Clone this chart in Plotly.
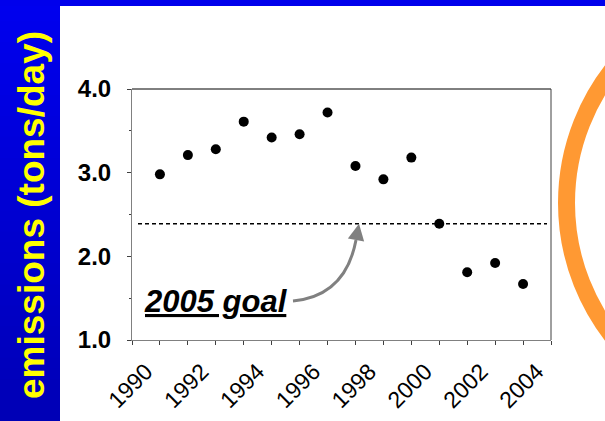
import plotly.graph_objects as go

# Annual emissions (tons/day)
years = [1990, 1991, 1992, 1993, 1994, 1995, 1996, 1997, 1998, 1999, 2000, 2001, 2002, 2003]
emissions = [2.98, 3.21, 3.28, 3.61, 3.42, 3.46, 3.72, 3.08, 2.92, 3.18, 2.39, 1.81, 1.92, 1.67]
label_years = [1990, 1992, 1994, 1996, 1998, 2000, 2002, 2004]
y_ticks = [1.0, 2.0, 3.0, 4.0]
goal_2005 = 2.39

W, H = 605, 421
ML, MR, MT, MB = 132, 54, 89, 81
PW, PH = W - ML - MR, H - MT - MB


def px_x(px):
    return (px - ML) / PW


def px_y(py):
    return (H - MB - py) / PH


FONT = "Arial, Liberation Sans, sans-serif"
AXIS_GREY = "#808080"

fig = go.Figure()
fig.add_trace(go.Scatter(
    x=years, y=emissions, mode="markers",
    marker=dict(size=10, color="black"),
    showlegend=False, hoverinfo="x+y",
))

shapes = []

# blue side band with vertical gradient
n_bands = 40
top_rgb, bot_rgb = (0, 0, 238), (0, 0, 182)
for i in range(n_bands):
    t = i / (n_bands - 1)
    c = tuple(round(a + (b - a) * t) for a, b in zip(top_rgb, bot_rgb))
    y0 = H * i / n_bands
    y1 = H * (i + 1) / n_bands + 1
    shapes.append(dict(type="rect", xref="paper", yref="paper",
                       x0=px_x(0), x1=px_x(60), y0=px_y(y1), y1=px_y(y0),
                       fillcolor="rgb(%d,%d,%d)" % c, line=dict(width=0), layer="below"))
# blue top band
shapes.append(dict(type="rect", xref="paper", yref="paper",
                   x0=px_x(0), x1=px_x(W), y0=px_y(6), y1=px_y(0),
                   fillcolor="rgb(0,0,236)", line=dict(width=0), layer="below"))

# orange ring on the right
r_ring = 216.5
cx, cy = 783, 203
shapes.append(dict(type="circle", xref="paper", yref="paper",
                   x0=px_x(cx - r_ring), x1=px_x(cx + r_ring),
                   y0=px_y(cy + r_ring), y1=px_y(cy - r_ring),
                   line=dict(color="#FF9933", width=17)))

# top and right frame of the plot area
shapes.append(dict(type="line", xref="paper", yref="paper", x0=0, x1=1, y0=1, y1=1,
                   line=dict(color="black", width=1)))
shapes.append(dict(type="line", xref="paper", yref="paper", x0=1, x1=1, y0=0, y1=1,
                   line=dict(color="#404040", width=1)))

# 2005 goal dashed line
shapes.append(dict(type="line", xref="paper", yref="y",
                   x0=px_x(138), x1=px_x(547), y0=goal_2005, y1=goal_2005,
                   line=dict(color="black", width=1.5, dash="4px,3px")))


# curved arrow body from the label towards the goal line
def dx(px):
    return 1989 + (px - ML) / (PW / 15)


def dy(py):
    return 1 + (H - MB - py) / (PH / 3)


p0 = (dx(293), dy(301))
pc = (dx(345.5), dy(296))
p1 = (dx(356), dy(240))
shapes.append(dict(type="path", xref="x", yref="y",
                   path="M %f,%f Q %f,%f %f,%f" % (p0[0], p0[1], pc[0], pc[1], p1[0], p1[1]),
                   line=dict(color=AXIS_GREY, width=3)))

annotations = [
    # arrow head
    dict(x=dx(359), y=goal_2005, ax=p1[0], ay=p1[1], xref="x", yref="y",
         axref="x", ayref="y", text="", showarrow=True, arrowhead=2,
         arrowsize=1.1, arrowwidth=3, arrowcolor=AXIS_GREY, standoff=0),
    dict(x=px_x(216), y=px_y(301), xref="paper", yref="paper",
         text="<b><i><u>2005 goal</u></i></b>", showarrow=False,
         font=dict(family=FONT, size=31, color="black"),
         xanchor="center", yanchor="middle"),
    dict(x=px_x(31), y=px_y(215), xref="paper", yref="paper",
         text="<b>emissions (tons/day)</b>", textangle=-90, showarrow=False,
         font=dict(family=FONT, size=37, color="#FFFF00"),
         xanchor="center", yanchor="middle"),
]

fig.update_layout(
    width=W, height=H,
    margin=dict(l=ML, r=MR, t=MT, b=MB, pad=0, autoexpand=False),
    paper_bgcolor="white", plot_bgcolor="white",
    shapes=shapes, annotations=annotations,
    showlegend=False,
    xaxis=dict(
        range=[1989, 2004], showgrid=False, zeroline=False, automargin=False,
        showline=True, linecolor=AXIS_GREY, linewidth=1,
        tickmode="array", tickvals=[y - 0.5 for y in label_years],
        ticktext=[str(y) for y in label_years], ticks="",
        tickangle=-45, ticklabelstandoff=8,
        tickfont=dict(family=FONT, size=23, color="black"),
        minor=dict(ticks="outside", tick0=1989, dtick=1, ticklen=4,
                   tickcolor="#404040", tickwidth=1),
    ),
    yaxis=dict(
        range=[1, 4], showgrid=False, zeroline=False, automargin=False,
        showline=True, linecolor=AXIS_GREY, linewidth=1,
        tickmode="array", tickvals=y_ticks,
        ticktext=["%.1f" % v for v in y_ticks],
        ticks="outside", ticklen=4, tickcolor="#404040",
        ticklabelstandoff=11,
        tickfont=dict(family=FONT, size=24, color="black", weight="bold"),
        minor=dict(ticks="outside", tick0=1, dtick=0.5, ticklen=2,
                   tickcolor="#404040", tickwidth=1),
    ),
)

fig.write_html("out.html")
